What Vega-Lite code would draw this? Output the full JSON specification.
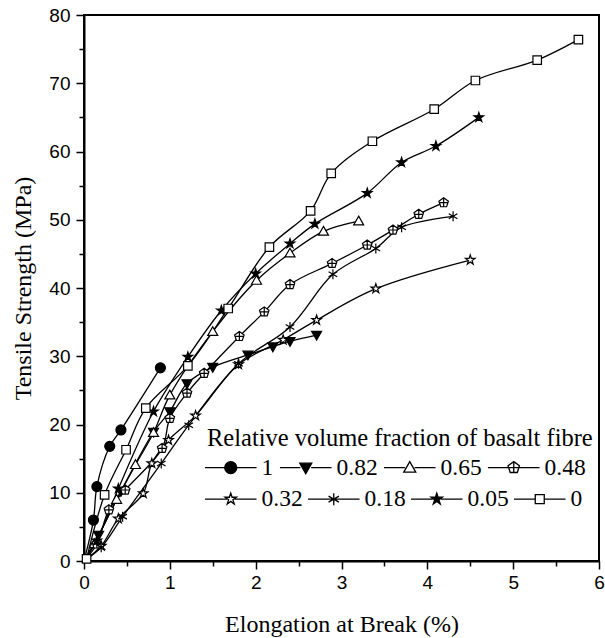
{
  "$schema": "https://vega.github.io/schema/vega-lite/v6.json",
  "width": 515,
  "height": 546,
  "autosize": "none",
  "padding": {"left": 84, "top": 15, "right": 6, "bottom": 77},
  "background": "white",
  "config": {
    "view": {"stroke": "black", "strokeWidth": 2},
    "axis": {
      "grid": false,
      "domainColor": "black",
      "domainWidth": 2,
      "tickColor": "black",
      "tickWidth": 1.5,
      "labelFont": "Liberation Sans",
      "labelFontSize": 19,
      "labelColor": "black",
      "labelOverlap": false,
      "labelFlush": false,
      "titleFont": "Liberation Serif, Times New Roman, serif",
      "titleFontSize": 24,
      "titleFontWeight": "normal",
      "titleColor": "black"
    },
    "legend": {
      "symbolSize": 144,
      "symbolStrokeWidth": 1.3,
      "symbolStrokeColor": "black",
      "symbolOpacity": 1,
      "labelFont": "Liberation Serif, Times New Roman, serif",
      "labelFontSize": 23.5,
      "labelColor": "black",
      "labelLimit": 0,
      "titleFont": "Liberation Serif, Times New Roman, serif",
      "titleFontSize": 24.5,
      "titleFontWeight": "normal",
      "titleColor": "black",
      "titleLimit": 0,
      "padding": 0
    }
  },
  "data": {
    "values": [
      {"s": "1", "i": 0, "x": 0, "y": 0},
      {"s": "1", "i": 1, "x": 0.11, "y": 6.0},
      {"s": "1", "i": 2, "x": 0.15, "y": 10.9},
      {"s": "1", "i": 3, "x": 0.3, "y": 16.8},
      {"s": "1", "i": 4, "x": 0.43, "y": 19.2},
      {"s": "1", "i": 5, "x": 0.89, "y": 28.3},

      {"s": "0.82", "i": 0, "x": 0, "y": 0},
      {"s": "0.82", "i": 1, "x": 0.17, "y": 3.8},
      {"s": "0.82", "i": 2, "x": 0.43, "y": 10.2},
      {"s": "0.82", "i": 3, "x": 0.81, "y": 18.9},
      {"s": "0.82", "i": 4, "x": 1.0, "y": 21.9},
      {"s": "0.82", "i": 5, "x": 1.2, "y": 26.0},
      {"s": "0.82", "i": 6, "x": 1.5, "y": 28.4},
      {"s": "0.82", "i": 7, "x": 1.91, "y": 30.2},
      {"s": "0.82", "i": 8, "x": 2.2, "y": 31.4},
      {"s": "0.82", "i": 9, "x": 2.4, "y": 32.2},
      {"s": "0.82", "i": 10, "x": 2.71, "y": 33.1},

      {"s": "0.65", "i": 0, "x": 0, "y": 0},
      {"s": "0.65", "i": 1, "x": 0.12, "y": 2.5},
      {"s": "0.65", "i": 2, "x": 0.38, "y": 9.0},
      {"s": "0.65", "i": 3, "x": 0.6, "y": 14.1},
      {"s": "0.65", "i": 4, "x": 0.81, "y": 18.8},
      {"s": "0.65", "i": 5, "x": 1.0, "y": 24.3},
      {"s": "0.65", "i": 6, "x": 1.5, "y": 33.6},
      {"s": "0.65", "i": 7, "x": 2.01, "y": 41.1},
      {"s": "0.65", "i": 8, "x": 2.4, "y": 45.1},
      {"s": "0.65", "i": 9, "x": 2.79, "y": 48.3},
      {"s": "0.65", "i": 10, "x": 3.2, "y": 49.8},

      {"s": "0.48", "i": 0, "x": 0, "y": 0},
      {"s": "0.48", "i": 1, "x": 0.15, "y": 2.5},
      {"s": "0.48", "i": 2, "x": 0.29, "y": 7.5},
      {"s": "0.48", "i": 3, "x": 0.48, "y": 10.4},
      {"s": "0.48", "i": 4, "x": 0.91, "y": 16.5},
      {"s": "0.48", "i": 5, "x": 1.0, "y": 20.9},
      {"s": "0.48", "i": 6, "x": 1.2, "y": 24.6},
      {"s": "0.48", "i": 7, "x": 1.4, "y": 27.5},
      {"s": "0.48", "i": 8, "x": 1.81, "y": 32.9},
      {"s": "0.48", "i": 9, "x": 2.1, "y": 36.5},
      {"s": "0.48", "i": 10, "x": 2.4, "y": 40.5},
      {"s": "0.48", "i": 11, "x": 2.89, "y": 43.6},
      {"s": "0.48", "i": 12, "x": 3.3, "y": 46.3},
      {"s": "0.48", "i": 13, "x": 3.6, "y": 48.5},
      {"s": "0.48", "i": 14, "x": 3.9, "y": 50.8},
      {"s": "0.48", "i": 15, "x": 4.19, "y": 52.5},

      {"s": "0.32", "i": 0, "x": 0, "y": 0},
      {"s": "0.32", "i": 1, "x": 0.2, "y": 2.2},
      {"s": "0.32", "i": 2, "x": 0.4, "y": 6.2},
      {"s": "0.32", "i": 3, "x": 0.69, "y": 9.9},
      {"s": "0.32", "i": 4, "x": 0.79, "y": 14.3},
      {"s": "0.32", "i": 5, "x": 0.985, "y": 17.7},
      {"s": "0.32", "i": 6, "x": 1.3, "y": 21.3},
      {"s": "0.32", "i": 7, "x": 1.8, "y": 28.8},
      {"s": "0.32", "i": 8, "x": 2.32, "y": 32.4},
      {"s": "0.32", "i": 9, "x": 2.71, "y": 35.3},
      {"s": "0.32", "i": 10, "x": 3.4, "y": 39.9},
      {"s": "0.32", "i": 11, "x": 4.5, "y": 44.1},

      {"s": "0.18", "i": 0, "x": 0, "y": 0},
      {"s": "0.18", "i": 1, "x": 0.2, "y": 2.0},
      {"s": "0.18", "i": 2, "x": 0.45, "y": 6.5},
      {"s": "0.18", "i": 3, "x": 0.9, "y": 14.3},
      {"s": "0.18", "i": 4, "x": 1.22, "y": 19.9},
      {"s": "0.18", "i": 5, "x": 1.8, "y": 28.9},
      {"s": "0.18", "i": 6, "x": 2.4, "y": 34.3},
      {"s": "0.18", "i": 7, "x": 2.9, "y": 42.0},
      {"s": "0.18", "i": 8, "x": 3.4, "y": 45.8},
      {"s": "0.18", "i": 9, "x": 3.7, "y": 48.9},
      {"s": "0.18", "i": 10, "x": 4.3, "y": 50.5},

      {"s": "0.05", "i": 0, "x": 0, "y": 0},
      {"s": "0.05", "i": 1, "x": 0.15, "y": 3.0},
      {"s": "0.05", "i": 2, "x": 0.4, "y": 10.6},
      {"s": "0.05", "i": 3, "x": 0.81, "y": 21.9},
      {"s": "0.05", "i": 4, "x": 1.21, "y": 29.9},
      {"s": "0.05", "i": 5, "x": 1.6, "y": 36.7},
      {"s": "0.05", "i": 6, "x": 2.0, "y": 42.1},
      {"s": "0.05", "i": 7, "x": 2.4, "y": 46.5},
      {"s": "0.05", "i": 8, "x": 2.69, "y": 49.4},
      {"s": "0.05", "i": 9, "x": 3.3, "y": 53.9},
      {"s": "0.05", "i": 10, "x": 3.7, "y": 58.4},
      {"s": "0.05", "i": 11, "x": 4.1, "y": 60.8},
      {"s": "0.05", "i": 12, "x": 4.6, "y": 65.0},

      {"s": "0", "i": 0, "x": 0.03, "y": 0.3},
      {"s": "0", "i": 1, "x": 0.24, "y": 9.7},
      {"s": "0", "i": 2, "x": 0.49, "y": 16.3},
      {"s": "0", "i": 3, "x": 0.72, "y": 22.4},
      {"s": "0", "i": 4, "x": 1.21, "y": 28.6},
      {"s": "0", "i": 5, "x": 1.68, "y": 37.0},
      {"s": "0", "i": 6, "x": 2.16, "y": 46.0},
      {"s": "0", "i": 7, "x": 2.64, "y": 51.3},
      {"s": "0", "i": 8, "x": 2.88, "y": 56.8},
      {"s": "0", "i": 9, "x": 3.36, "y": 61.5},
      {"s": "0", "i": 10, "x": 4.08, "y": 66.2},
      {"s": "0", "i": 11, "x": 4.56, "y": 70.4},
      {"s": "0", "i": 12, "x": 5.28, "y": 73.4},
      {"s": "0", "i": 13, "x": 5.76, "y": 76.4}
    ]
  },
  "encoding": {
    "x": {
      "field": "x",
      "type": "quantitative",
      "scale": {"domain": [0, 6], "nice": false, "zero": false},
      "axis": {
        "title": "Elongation at Break (%)",
        "values": [0, 0.5, 1, 1.5, 2, 2.5, 3, 3.5, 4, 4.5, 5, 5.5, 6],
        "labelExpr": "datum.value % 1 === 0 ? '' + datum.value : ''",
        "tickSize": {"condition": {"test": "datum.value % 1 === 0", "value": 8}, "value": 5},
        "labelPadding": 4,
        "titlePadding": 20
      }
    },
    "y": {
      "field": "y",
      "type": "quantitative",
      "scale": {"domain": [0, 80], "nice": false},
      "axis": {
        "title": "Tensile Strength (MPa)",
        "values": [0, 5, 10, 15, 20, 25, 30, 35, 40, 45, 50, 55, 60, 65, 70, 75, 80],
        "labelExpr": "datum.value % 10 === 0 ? '' + datum.value : ''",
        "tickSize": {"condition": {"test": "datum.value % 10 === 0", "value": 8}, "value": 5},
        "labelPadding": 6,
        "titlePadding": 13
      }
    }
  },
  "layer": [
    {
      "mark": {"type": "line", "color": "black", "strokeWidth": 1.3, "interpolate": "catmull-rom"},
      "encoding": {
        "detail": {"field": "s", "type": "nominal"},
        "order": {"field": "i", "type": "quantitative"}
      }
    },
    {
      "transform": [{"filter": "datum.x > 0"}],
      "mark": {"type": "point", "filled": true, "stroke": "black", "strokeWidth": 1.2, "opacity": 1, "size": 100},
      "encoding": {
        "shape": {
          "field": "s",
          "type": "nominal",
          "legend": null,
          "scale": {
            "domain": ["1", "0.82", "0.65", "0.48", "0.32", "0.18", "0.05", "0"],
            "range": [
              "M-1,0A1,1,0,1,0,1,0A1,1,0,1,0,-1,0Z",
              "M-1,-0.75L1,-0.75L0,1Z",
              "M0,-1L1,0.75L-1,0.75Z",
              "M0,-1L0.951,-0.309L0.588,0.809L-0.588,0.809L-0.951,-0.309ZM0,-1V0.809M-0.851,0H0.851",
              "M0,-1L0.225,-0.309L0.951,-0.309L0.363,0.118L0.588,0.809L0,0.382L-0.588,0.809L-0.363,0.118L-0.951,-0.309L-0.225,-0.309Z",
              "M0,-1V1M-0.866,-0.5L0.866,0.5M-0.866,0.5L0.866,-0.5",
              "M0,-1L0.225,-0.309L0.951,-0.309L0.363,0.118L0.588,0.809L0,0.382L-0.588,0.809L-0.363,0.118L-0.951,-0.309L-0.225,-0.309Z",
              "M-0.85,-0.85H0.85V0.85H-0.85Z"
            ]
          }
        },
        "fill": {
          "field": "s",
          "type": "nominal",
          "legend": null,
          "scale": {
            "domain": ["1", "0.82", "0.65", "0.48", "0.32", "0.18", "0.05", "0"],
            "range": ["black", "black", "white", "white", "white", "white", "black", "white"]
          }
        }
      }
    },
    {
      "transform": [{"filter": "false"}],
      "mark": {"type": "point", "filled": true, "stroke": "black", "strokeWidth": 1.3, "opacity": 1},
      "encoding": {
        "shape": {
          "field": "s",
          "type": "nominal",
          "scale": {
            "domain": ["1", "0.82", "0.65", "0.48"],
            "range": [
              "M-4.3,0H-1M1,0H4.3M-1,0A1,1,0,1,0,1,0A1,1,0,1,0,-1,0Z",
              "M-4.3,0H-0.9M0.9,0H4.3M-1,-0.75L1,-0.75L0,1Z",
              "M-4.3,0H-0.8M0.8,0H4.3M0,-1L1,0.75L-1,0.75Z",
              "M-4.3,0H-0.85M0.85,0H4.3M0,-1L0.951,-0.309L0.588,0.809L-0.588,0.809L-0.951,-0.309ZM0,-1V0.809M-0.851,0H0.851"
            ]
          },
          "legend": {
            "title": "Relative volume fraction of basalt fibre",
            "orient": "none",
            "legendX": 123,
            "legendY": 412,
            "direction": "horizontal",
            "symbolOffset": 12,
            "labelOffset": 19,
            "titlePadding": 4,
            "columnPadding": 3,
            "encode": {"symbols": {"update": {"stroke": {"value": "black"}, "strokeWidth": {"value": 1.3}}}}
          }
        },
        "fill": {
          "field": "s",
          "type": "nominal",
          "scale": {
            "domain": ["1", "0.82", "0.65", "0.48"],
            "range": ["black", "black", "white", "white"]
          },
          "legend": {
            "title": "Relative volume fraction of basalt fibre",
            "orient": "none",
            "legendX": 123,
            "legendY": 412,
            "direction": "horizontal",
            "symbolOffset": 12,
            "labelOffset": 19,
            "titlePadding": 4,
            "columnPadding": 3,
            "encode": {"symbols": {"update": {"stroke": {"value": "black"}, "strokeWidth": {"value": 1.3}}}}
          }
        }
      }
    },
    {
      "transform": [{"filter": "false"}],
      "mark": {"type": "point", "filled": true, "stroke": "black", "strokeWidth": 1.3, "opacity": 1},
      "encoding": {
        "shape": {
          "field": "s",
          "type": "nominal",
          "scale": {
            "domain": ["0.32", "0.18", "0.05", "0"],
            "range": [
              "M-4.3,0H-0.7M0.7,0H4.3M0,-1L0.225,-0.309L0.951,-0.309L0.363,0.118L0.588,0.809L0,0.382L-0.588,0.809L-0.363,0.118L-0.951,-0.309L-0.225,-0.309Z",
              "M-4.3,0H4.3M0,-1V1M-0.866,-0.5L0.866,0.5M-0.866,0.5L0.866,-0.5",
              "M-4.3,0H-0.7M0.7,0H4.3M0,-1L0.225,-0.309L0.951,-0.309L0.363,0.118L0.588,0.809L0,0.382L-0.588,0.809L-0.363,0.118L-0.951,-0.309L-0.225,-0.309Z",
              "M-4.3,0H-0.75M0.75,0H4.3M-0.75,-0.75H0.75V0.75H-0.75Z"
            ]
          },
          "legend": {
            "title": null,
            "orient": "none",
            "legendX": 123,
            "legendY": 472,
            "direction": "horizontal",
            "symbolOffset": 12,
            "labelOffset": 19,
            "columnPadding": 2,
            "encode": {"symbols": {"update": {"stroke": {"value": "black"}, "strokeWidth": {"value": 1.3}}}}
          }
        },
        "fill": {
          "field": "s",
          "type": "nominal",
          "scale": {
            "domain": ["0.32", "0.18", "0.05", "0"],
            "range": ["white", "white", "black", "white"]
          },
          "legend": {
            "title": null,
            "orient": "none",
            "legendX": 123,
            "legendY": 472,
            "direction": "horizontal",
            "symbolOffset": 12,
            "labelOffset": 19,
            "columnPadding": 2,
            "encode": {"symbols": {"update": {"stroke": {"value": "black"}, "strokeWidth": {"value": 1.3}}}}
          }
        }
      }
    }
  ],
  "resolve": {"scale": {"shape": "independent", "fill": "independent"}}
}
